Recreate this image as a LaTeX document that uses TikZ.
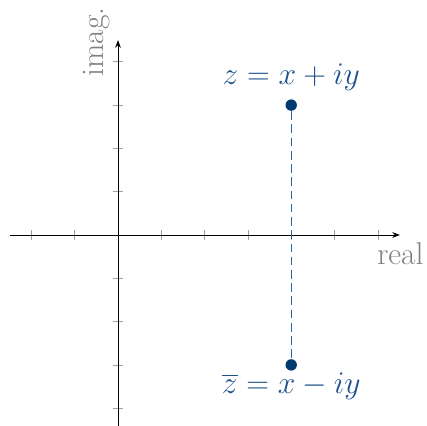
\documentclass[tikz,border=0pt]{standalone}
\usepackage{amsmath}
\usepackage{tikz}
\usetikzlibrary{arrows.meta,positioning}
\definecolor{PointBlue}{RGB}{0,59,111}
\definecolor{LabelBlue}{RGB}{30,82,140}
\definecolor{GuideBlue}{RGB}{45,100,160}
\definecolor{TickGray}{RGB}{160,160,160}
\begin{document}
\begin{tikzpicture}[x=1cm,y=1cm,font=\huge]
\useasboundingbox (-2.725,-4.388) rectangle (7.136,5.427);
\foreach \t in {-2,-1,1,2,3,4,5,6}{\draw[TickGray] (\t,-.12)--(\t,.12);}
\foreach \t in {-4,-3,-2,-1,1,2,3,4}{\draw[TickGray] (-.12,\t)--(.12,\t);}
\coordinate (xl) at (-2.49,0);\coordinate (xr) at (6.51,0);
\coordinate (yb) at (0,-4.45);\coordinate (yt) at (0,4.5);
\draw[-{Stealth[length=5pt]},black,line width=.6pt] (xl)--(xr);
\draw[-{Stealth[length=5pt]},black,line width=.6pt] (yb)--(yt);
\node[gray,anchor=base west,inner sep=0pt] (real) at (5.98,-.69) {real};
\node[gray,rotate=90,anchor=base west,inner sep=0pt] (imag) at (-.33,3.65) {imag.};
\node[circle,fill=PointBlue,inner sep=0pt,minimum size=7.5pt] (z) at (4,3) {};
\node[circle,fill=PointBlue,inner sep=0pt,minimum size=7.5pt] (zbar) at (4,-3) {};
\draw[GuideBlue,line width=.7pt,dash pattern=on 5.7pt off 3pt] (z)--(zbar);
\node[LabelBlue,above=.33cm of z,anchor=base] (zl) {$z=x+iy$};
\node[LabelBlue,below=.52cm of zbar,anchor=base] (zbl) {$\overline{z}=x-iy$};
\end{tikzpicture}
\end{document}
